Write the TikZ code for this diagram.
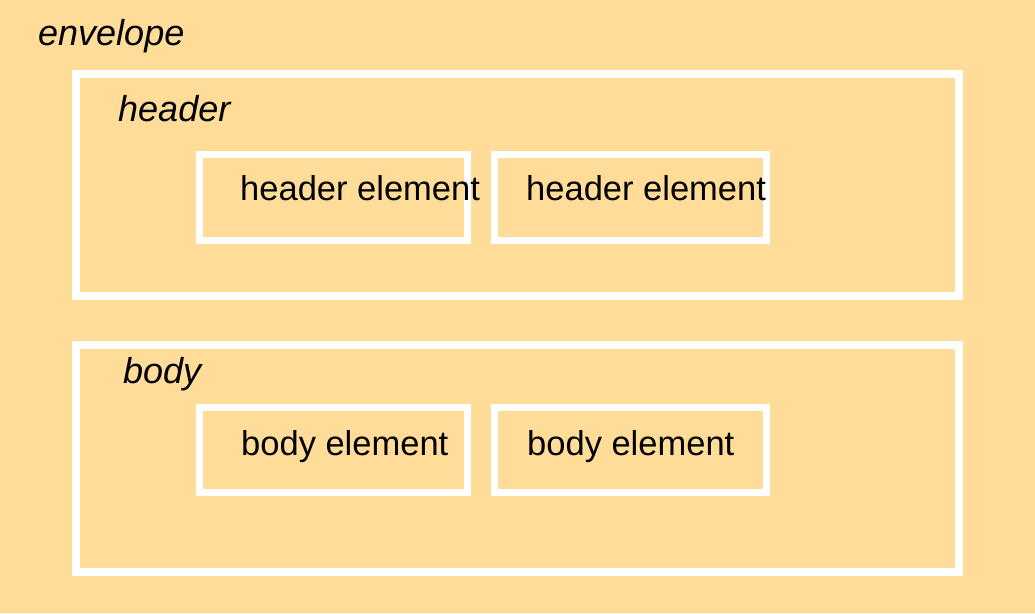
\documentclass[tikz,border=0pt]{standalone}
\usepackage{fontspec}
\setmainfont{Liberation Sans}
\definecolor{envbg}{RGB}{255,220,152}
\tikzset{
  frame/.style={draw=white,line width=8pt},
  elem/.style={draw=white,line width=7pt},
  lbl/.style={anchor=base west,inner sep=0pt,font=\fontsize{34.5}{40}\selectfont},
  title/.style={lbl,font=\fontsize{36}{42}\selectfont\itshape}
}
\begin{document}
\begin{tikzpicture}[x=1pt,y=-1pt]
\fill[envbg] (0,0) rectangle (1035,613);
\useasboundingbox (0,0) rectangle (1035,613);
\node[title] (env) at (38,45) {envelope};
% header and body
\draw[frame] (76,74) rectangle (959,296);
\draw[frame] (76,345) rectangle (959,572);
\node[title] (hdr) at (118,121) {header};
\node[title] (bdy) at (123,383) {body};
% the elements
\foreach \x/\dx in {199/0,494/1}
{
	\draw[elem] (\x,154) rectangle (\x+268+4*\dx,240);
	\draw[elem] (\x,407) rectangle (\x+268+4*\dx,492);
}
\node[lbl] (he1) at (240,200) {header element};
\node[lbl] (he2) at (526,200) {header element};
\node[lbl] (be1) at (241,455) {body element};
\node[lbl] (be2) at (527,455) {body element};
\end{tikzpicture}
\end{document}
